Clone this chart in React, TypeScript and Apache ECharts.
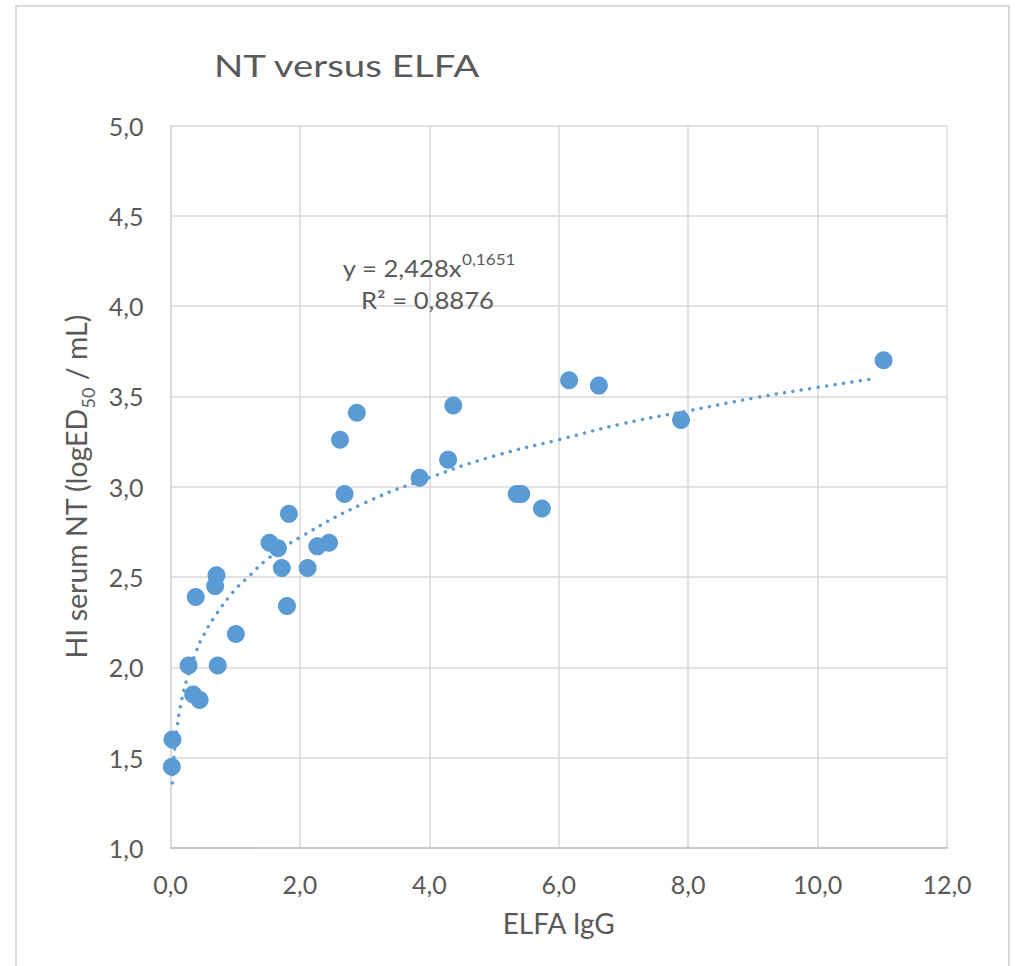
import React, { useEffect, useRef } from 'react';
import * as echarts from 'echarts';

const chartTitle = 'NT versus ELFA';
const xAxisName = 'ELFA IgG';
const equationLine = 'y = 2,428x';
const equationExp = '0,1651';
const rSquaredLine = 'R² = 0,8876';

// ELFA IgG (x) and HI serum NT (y)
const elfaIgG = [0.03, 0.02, 0.28, 0.73, 0.35, 0.45, 1.01, 0.39, 0.69, 0.71, 1.80, 1.72, 2.12, 1.53, 1.66, 2.27, 2.45, 1.83, 2.69, 2.62, 2.88, 3.85, 4.29, 4.37, 5.35, 5.42, 5.74, 6.16, 6.62, 7.89, 11.02];
const serumNT = [1.60, 1.45, 2.01, 2.01, 1.85, 1.82, 2.185, 2.39, 2.45, 2.51, 2.34, 2.55, 2.55, 2.69, 2.66, 2.67, 2.69, 2.85, 2.96, 3.26, 3.41, 3.05, 3.15, 3.45, 2.96, 2.96, 2.88, 3.59, 3.56, 3.37, 3.70];

// dotted power trend line
const trendX = [0.03, 0.06, 0.1, 0.15, 0.25, 0.4, 0.5, 0.7, 1.0, 1.2, 1.5, 2, 3, 4, 5, 6, 7, 8, 9, 10, 10.9];
const trendY = [1.36, 1.53, 1.66, 1.78, 1.93, 2.09, 2.17, 2.29, 2.43, 2.50, 2.60, 2.72, 2.91, 3.05, 3.17, 3.26, 3.35, 3.42, 3.49, 3.55, 3.60];

const xMin = 0, xMax = 12, xStep = 2;
const yMin = 1, yMax = 5, yStep = 0.5;

const fmt = (v: number) => v.toFixed(1).replace('.', ',');

export default function App() {
  const ref = useRef<HTMLDivElement>(null);
  useEffect(() => {
    if (!ref.current) return;
    const chart = echarts.init(ref.current, undefined, { renderer: 'svg' });
    const font = 'Lato';
    const textColor = '#595959';
    const blue = '#5b9bd5';
    chart.setOption({
      animation: false,
      backgroundColor: '#ffffff',
      textStyle: { fontFamily: font },
      grid: { left: 170.5, right: 68, top: 125.5, bottom: 118, containLabel: false },
      xAxis: {
        type: 'value',
        min: xMin,
        max: xMax,
        interval: xStep,
        name: xAxisName,
        nameLocation: 'middle',
        nameGap: 61,
        nameTextStyle: { fontFamily: font, fontSize: 28, color: textColor },
        axisLine: { show: true, lineStyle: { color: '#bfbfbf', width: 1.5 } },
        axisTick: { show: false },
        axisLabel: { formatter: fmt, fontFamily: font, fontSize: 25, color: textColor, margin: 23 },
        splitLine: { show: true, lineStyle: { color: '#d9d9d9', width: 1.5 } },
      },
      yAxis: {
        type: 'value',
        min: yMin,
        max: yMax,
        interval: yStep,
        name: '{a|HI serum NT (logED}{s|50}{a| / mL)}',
        nameLocation: 'middle',
        nameGap: 80,
        nameRotate: 90,
        nameTextStyle: {
          fontFamily: font,
          color: textColor,
          rich: {
            a: { fontFamily: font, fontSize: 28.5, color: textColor, lineHeight: 34, verticalAlign: 'bottom' },
            s: { fontFamily: font, fontSize: 18, color: textColor, lineHeight: 34, verticalAlign: 'bottom', padding: [0, 0, -6, 0] },
          },
        },
        axisLine: { show: true, lineStyle: { color: '#d9d9d9', width: 1.5 } },
        axisTick: { show: false },
        axisLabel: { formatter: fmt, fontFamily: font, fontSize: 25, color: textColor, margin: 27 },
        splitLine: { show: true, lineStyle: { color: '#d9d9d9', width: 1.5 } },
      },
      graphic: [
        {
          type: 'rect',
          shape: { x: 16, y: 6, width: 993, height: 975 },
          style: { fill: 'none', stroke: '#d9d9d9', lineWidth: 2 },
          silent: true,
          z: -10,
        },
        {
          type: 'text',
          x: 214,
          y: 64.5,
          scaleX: 1.22,
          style: {
            text: chartTitle,
            align: 'left',
            verticalAlign: 'middle',
            fontFamily: font,
            fontSize: 31.5,
            fill: textColor,
          },
          z: 100,
        },
        {
          type: 'text',
          x: 429,
          y: 264,
          scaleX: 1.07,
          style: {
            text: '{b|' + equationLine + '}{e|' + equationExp + '}',
            align: 'center',
            verticalAlign: 'middle',
            rich: {
              b: { fontFamily: font, fontSize: 24, fill: textColor, color: textColor, lineHeight: 30, verticalAlign: 'bottom' },
              e: { fontFamily: font, fontSize: 16, fill: textColor, color: textColor, lineHeight: 30, verticalAlign: 'bottom', padding: [0, 0, 12, 0] },
            },
          },
          z: 100,
        },
        {
          type: 'text',
          x: 427.5,
          y: 299,
          scaleX: 1.07,
          style: {
            text: rSquaredLine,
            align: 'center',
            verticalAlign: 'middle',
            fontFamily: font,
            fontSize: 24,
            fill: textColor,
          },
          z: 100,
        },
      ],
      series: [
        {
          type: 'scatter',
          data: elfaIgG.map((x, i) => [x, serumNT[i]]),
          symbol: 'circle',
          symbolSize: 18,
          itemStyle: { color: blue, opacity: 1 },
          z: 2,
        },
        {
          type: 'line',
          data: trendX.map((x, i) => [x, trendY[i]]),
          smooth: true,
          showSymbol: false,
          symbol: 'none',
          lineStyle: { color: blue, width: 3.5, type: [0.01, 8.5], cap: 'round' },
          z: 3,
        },
      ],
    });
    return () => chart.dispose();
  }, []);
  return (
    <div
      ref={ref}
      style={{ position: 'fixed', left: 0, top: 0, width: 1015, height: 966 }}
    />
  );
}
